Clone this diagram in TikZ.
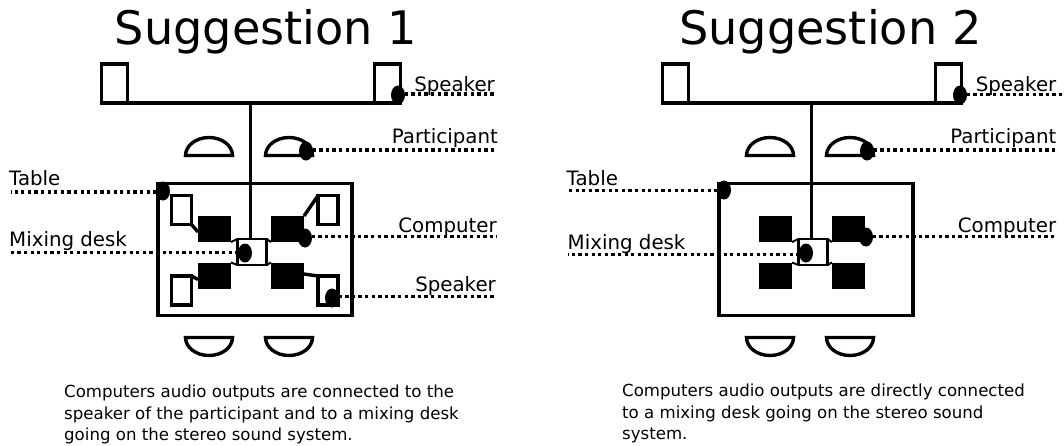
\documentclass[tikz,border=0pt]{standalone}
\usepackage{fontspec}
\setmainfont{DejaVu Sans}
\newcommand{\fsz}[2]{\fontsize{#1}{#2}\selectfont}
\tikzset{
  wire/.style={line width=3.4pt},
  box/.style={draw,line width=3.4pt,inner sep=0pt,outer sep=0pt,fill=white},
  comp/.style={fill=black,inner sep=0pt,outer sep=0pt,minimum width=33pt,minimum height=26pt},
  dotmark/.style={fill=black,ellipse,inner sep=0pt,outer sep=0pt,minimum width=14pt,minimum height=19pt},
  leader/.style={line width=3.4pt,dash pattern=on 3.3pt off 3.3pt},
  label/.style={font=\fsz{19.8}{24},inner sep=0pt},
  title/.style={font=\fsz{46.2}{50},inner sep=0pt,anchor=base west},
  caption/.style={font=\fsz{16.6}{21.3},inner sep=0pt,anchor=north west,align=left}
}
\usetikzlibrary{shapes.geometric}
\newcommand{\boxat}[5]{\node[box,minimum width=#4pt,minimum height=#5pt] (#1) at (#2,#3) {};}
\newcommand{\hump}[2]{\draw[wire,fill=white] (#1,#2) arc[start angle=180,end angle=360,x radius=23.5,y radius=18] -- cycle;}
\newcommand{\bowl}[2]{\draw[wire,fill=white] (#1,#2) arc[start angle=180,end angle=0,x radius=23.5,y radius=18] -- cycle;}
\newcommand{\panel}{%
  \boxat{tl}{114.5}{83.5}{26}{39}
  \boxat{tr}{387.5}{83.5}{26}{39}
  \draw[wire] (tl.south east) -- (tr.south west);
  \coordinate (bus) at (250.5,103);
  \hump{185.5}{155.5}\hump{265.5}{155.5}
  \boxat{table}{255}{249.5}{194}{132}
  \bowl{185.5}{337.5}\bowl{265.5}{337.5}
  \node[comp] (c1) at (214.5,229) {};
  \node[comp] (c2) at (287.5,229) {};
  \node[comp] (c3) at (214.5,275.5) {};
  \node[comp] (c4) at (287.5,275.5) {};
  \node[draw,line width=2pt,fill=white,inner sep=0pt,outer sep=0pt,minimum width=29pt,minimum height=26pt] (mix) at (252,252) {};
  \draw[wire] (mix.north west) -- (mix.south west) (mix.north east) -- (mix.south east);
  \draw[wire] (bus) -- (mix.north -| bus);
  \draw[line width=2pt] (c1.south east) -- (mix.north west) (c2.south west) -- (mix.north east)
    (c3.north east) -- (mix.south west) (c4.north west) -- (mix.south east);
}
\begin{document}
\begin{tikzpicture}[x=1pt,y=-1pt]
\useasboundingbox (0,0) rectangle (1064,445);
% ---------- Suggestion 1
\begin{scope}[name prefix=a-]
  \node[title] (title) at (114.5,44) {Suggestion 1};
  \panel
  \boxat{s1}{181.5}{210}{20}{29}
  \boxat{s2}{328}{210}{20}{29}
  \boxat{s3}{181.5}{290.5}{20}{29}
  \boxat{s4}{328}{290.5}{20}{29}
  \draw[wire] (s1.south east) -- ([yshift=-3pt]c1.west);
  \draw[wire] (s2.north west) -- (c2.north east);
  \draw[wire] (s3.north east) -- ([yshift=-4pt]c3.west);
  \draw[wire] ([yshift=1.5pt]c4.east) -- (s4.north west);
  \node[dotmark] (dspk) at (398,95) {};
  \node[dotmark] (dpart) at (306,151) {};
  \node[dotmark] (dtable) at (163,191) {};
  \node[dotmark] (dcomp) at (305,238) {};
  \node[dotmark] (dmix) at (245,253) {};
  \node[dotmark] (dspk2) at (332,298) {};
  \coordinate (espk) at (495,94);
  \coordinate (epart) at (496,150);
  \coordinate (etable) at (11,192);
  \coordinate (ecomp) at (497,236.7);
  \coordinate (emix) at (10,252.7);
  \coordinate (espk2) at (496,296.7);
  \draw[leader] (dspk |- espk) -- (espk);
  \draw[leader] (dpart |- epart) -- (epart);
  \draw[leader] (dtable |- etable) -- (etable);
  \draw[leader] (dcomp |- ecomp) -- (ecomp);
  \draw[leader] (dmix |- emix) -- (emix);
  \draw[leader] (dspk2 |- espk2) -- (espk2);
  \node[label,anchor=base east] (lspk) at (495,91) {Speaker};
  \node[label,anchor=base east] (lpart) at (498,143) {Participant};
  \node[label,anchor=base west] (ltable) at (9,185) {Table};
  \node[label,anchor=base east] (lcomp) at (497,232) {Computer};
  \node[label,anchor=base west] (lmix) at (9,246) {Mixing desk};
  \node[label,anchor=base east] (lspk2) at (496,291) {Speaker};
  \node[caption] (cap) at (64,385) {Computers audio outputs are connected to the\\speaker of the participant and to a mixing desk\\going on the stereo sound system.};
\end{scope}
% ---------- Suggestion 2
\begin{scope}[name prefix=b-,xshift=561pt]
  \panel
  \node[dotmark] (dspk) at (399,95) {};
  \node[dotmark] (dpart) at (306,151) {};
  \node[dotmark] (dtable) at (163,190) {};
  \node[dotmark] (dcomp) at (305,237) {};
  \node[dotmark] (dmix) at (245,253) {};
  \coordinate (espk) at (503,94.5);
  \coordinate (epart) at (495,150);
  \coordinate (etable) at (7,190.5);
  \coordinate (ecomp) at (495,236.7);
  \coordinate (emix) at (7,254.5);
  \draw[leader] (dspk |- espk) -- (espk);
  \draw[leader] (dpart |- epart) -- (epart);
  \draw[leader] (dtable |- etable) -- (etable);
  \draw[leader] (dcomp |- ecomp) -- (ecomp);
  \draw[leader] (dmix |- emix) -- (emix);
  \node[label,anchor=base east] (lspk) at (495.5,91) {Speaker};
  \node[label,anchor=base east] (lpart) at (495.5,143) {Participant};
  \node[label,anchor=base west] (ltable) at (5.5,185) {Table};
  \node[label,anchor=base east] (lcomp) at (495.5,232) {Computer};
  \node[label,anchor=base west] (lmix) at (6.5,249) {Mixing desk};
\end{scope}
\node[title] (title2) at (679,44) {Suggestion 2};
\node[caption] (cap2) at (622,384) {Computers audio outputs are directly connected\\to a mixing desk going on the stereo sound\\system.};
\end{tikzpicture}
\end{document}
